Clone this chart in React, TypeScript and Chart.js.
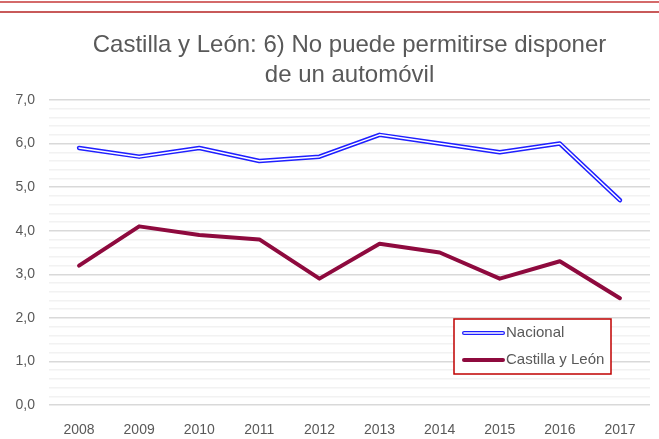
import React, { useEffect, useRef } from "react";
import { Chart, registerables } from "chart.js";

Chart.register(...registerables);

const years = ["2008", "2009", "2010", "2011", "2012", "2013", "2014", "2015", "2016", "2017"];
const nacional = [5.9, 5.7, 5.9, 5.6, 5.7, 6.2, 6.0, 5.8, 6.0, 4.7];
const castillaLeon = [3.2, 4.1, 3.9, 3.8, 2.9, 3.7, 3.5, 2.9, 3.3, 2.45];
const titleLines = ["Castilla y León: 6) No puede permitirse disponer", "de un automóvil"];
const seriesNames = ["Nacional", "Castilla y León"];

const FONT = "'Liberation Sans', Arial, sans-serif";
const TEXT = "#595959";
const BLUE = "#1f1fff";
const MAROON = "#8e0a3e";

const legendPlugin = {
  id: "boxLegend",
  afterDraw(chart: any) {
    const ctx = chart.ctx;
    const x = 454, y = 319, w = 157, h = 55;
    ctx.save();
    ctx.fillStyle = "#ffffff";
    ctx.fillRect(x, y, w, h);
    ctx.strokeStyle = "#c00000";
    ctx.lineWidth = 1.5;
    ctx.strokeRect(x, y, w, h);
    ctx.lineCap = "round";
    const y1 = y + 14, y2 = y + 41;
    ctx.strokeStyle = BLUE;
    ctx.lineWidth = 4;
    ctx.beginPath(); ctx.moveTo(464, y1); ctx.lineTo(503, y1); ctx.stroke();
    ctx.strokeStyle = "#ffffff";
    ctx.lineWidth = 1.5;
    ctx.beginPath(); ctx.moveTo(464, y1); ctx.lineTo(503, y1); ctx.stroke();
    ctx.strokeStyle = MAROON;
    ctx.lineWidth = 4;
    ctx.beginPath(); ctx.moveTo(464, y2); ctx.lineTo(503, y2); ctx.stroke();
    ctx.fillStyle = TEXT;
    ctx.font = `15px ${FONT}`;
    ctx.textBaseline = "middle";
    ctx.textAlign = "left";
    ctx.fillText(seriesNames[0], 506, y1);
    ctx.fillText(seriesNames[1], 506, y2);
    ctx.restore();
  },
};

export default function App() {
  const ref = useRef<HTMLCanvasElement>(null);
  useEffect(() => {
    document.body.style.margin = "0";
    const chart = new Chart(ref.current!, {
      type: "line",
      data: {
        labels: years,
        datasets: [
          {
            label: seriesNames[0] + " inner",
            data: nacional,
            borderColor: "#ffffff",
            borderWidth: 1.5,
            pointRadius: 0,
            tension: 0,
            borderJoinStyle: "round",
            borderCapStyle: "round",
          },
          {
            label: seriesNames[0],
            data: nacional,
            borderColor: BLUE,
            borderWidth: 4.5,
            pointRadius: 0,
            tension: 0,
            borderJoinStyle: "round",
            borderCapStyle: "round",
          },
          {
            label: seriesNames[1],
            data: castillaLeon,
            borderColor: MAROON,
            borderWidth: 4,
            pointRadius: 0,
            tension: 0,
            borderJoinStyle: "round",
            borderCapStyle: "round",
          },
        ],
      },
      options: {
        animation: false,
        responsive: false,
        layout: { padding: { left: 0, right: 9, top: 0, bottom: 0 } },
        plugins: {
          legend: { display: false },
          tooltip: { enabled: false },
          title: {
            display: true,
            text: titleLines,
            fullSize: false,
            color: TEXT,
            font: { family: FONT, size: 24, weight: "normal", lineHeight: 1.25 },
            padding: { top: 30, bottom: 10 },
          },
        },
        scales: {
          x: {
            offset: true,
            grid: { display: false },
            border: { display: false },
            ticks: { color: TEXT, font: { family: FONT, size: 14 }, padding: 9 },
            afterFit: (s: any) => { s.height = 34; },
          },
          y: {
            min: 0,
            max: 7,
            border: { display: false },
            grid: {
              drawTicks: false,
              color: (c: any) => (Math.abs(c.tick.value - Math.round(c.tick.value)) < 1e-6 ? "#d9d9d9" : "#f2f2f2"),
              lineWidth: 1.5,
            },
            ticks: {
              stepSize: 0.2,
              autoSkip: false,
              color: TEXT,
              font: { family: FONT, size: 14 },
              padding: 14,
              callback: (v: any) => {
                const n = Number(v);
                return Math.abs(n - Math.round(n)) < 1e-6 ? Math.round(n).toFixed(1).replace(".", ",") : "";
              },
            },
            afterFit: (s: any) => { s.width = 49; },
          },
        },
      },
      plugins: [legendPlugin],
    });
    return () => chart.destroy();
  }, []);

  return (
    <div style={{ position: "relative", width: 659, height: 439, background: "#fff" }}>
      <canvas ref={ref} width={659} height={439} style={{ display: "block" }} />
      <div style={{ position: "absolute", left: 0, top: 1, width: 659, height: 2, background: "#d46a6a" }} />
      <div style={{ position: "absolute", left: 0, top: 11, width: 659, height: 2, background: "#c85a5a" }} />
    </div>
  );
}
